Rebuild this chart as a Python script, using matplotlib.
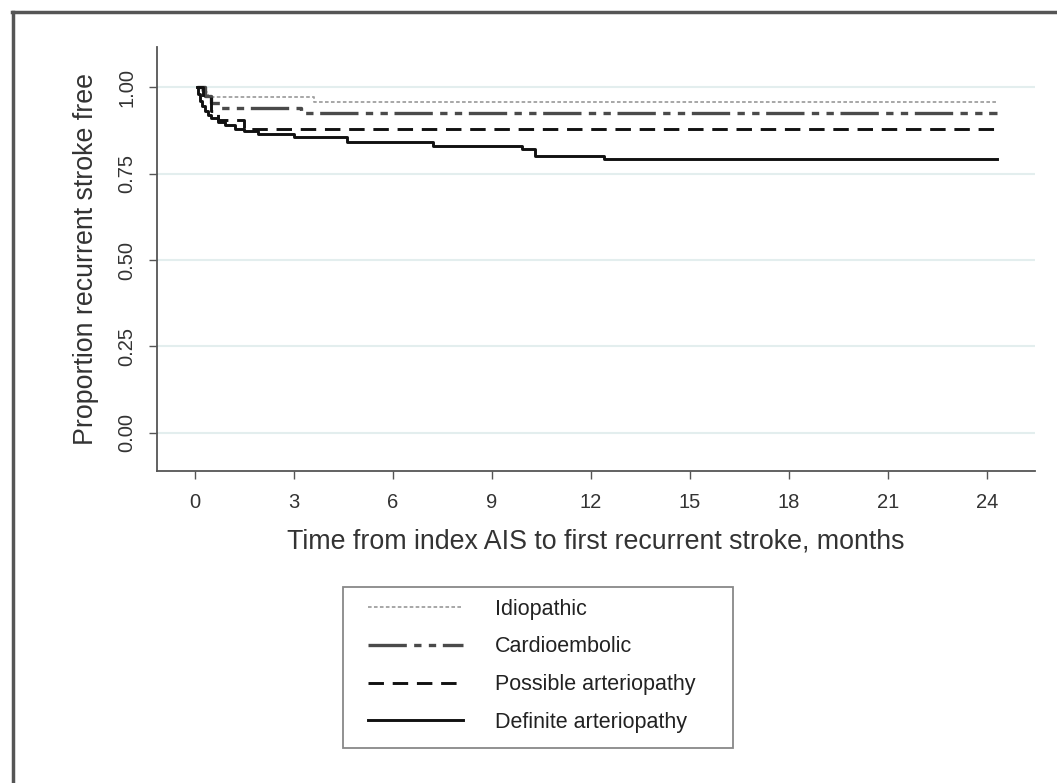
import matplotlib
matplotlib.use('Agg')
import matplotlib.pyplot as plt
from matplotlib.lines import Line2D
from matplotlib.patches import Rectangle

# Kaplan-Meier estimates (months, proportion free)
idio_t = [0.06, 0.2, 0.4, 3.6, 24.3]
idio_s = [1.0, 0.985, 0.972, 0.957, 0.957]

cardio_t = [0.06, 0.3, 0.5, 0.8, 3.2, 24.3]
cardio_s = [1.0, 0.975, 0.955, 0.94, 0.925, 0.925]

poss_t = [0.06, 0.25, 0.5, 0.7, 1.5, 24.3]
poss_s = [1.0, 0.97, 0.93, 0.905, 0.878, 0.878]

def_t = [0.06, 0.1, 0.15, 0.2, 0.3, 0.4, 0.5, 0.7, 0.9, 1.2, 1.5, 1.9,
         3.0, 4.6, 7.2, 9.9, 10.3, 12.4, 24.3]
def_s = [1.0, 0.98, 0.96, 0.945, 0.93, 0.92, 0.91, 0.90, 0.89, 0.88, 0.873,
         0.865, 0.855, 0.84, 0.83, 0.82, 0.80, 0.792, 0.792]

labels = ['Idiopathic', 'Cardioembolic', 'Possible arteriopathy',
          'Definite arteriopathy']
xticks = [0, 3, 6, 9, 12, 15, 18, 21, 24]
yticks = [0.0, 0.25, 0.5, 0.75, 1.0]

plt.rcParams['font.family'] = ['Liberation Sans', 'DejaVu Sans']

fig = plt.figure(figsize=(10.57, 7.83), dpi=100)
ax = fig.add_axes([0.1485, 0.3985, 0.8305, 0.5415])

styles = [
    dict(color='#a0a0a0', lw=1.3, ls=(0, (2.0, 1.3))),
    dict(color='#4a4a4a', lw=2.4, ls=(0, (11.5, 2.2, 2.2, 2.2, 2.2, 2.0))),
    dict(color='#111111', lw=2.1, ls=(0, (5.3, 3.0))),
    dict(color='#111111', lw=2.1, ls='-'),
]
series = [(idio_t, idio_s), (cardio_t, cardio_s), (poss_t, poss_s),
          (def_t, def_s)]

handles = []
for (t, s), st, lab in zip(series, styles, labels):
    h, = ax.step(t, s, where='post', label=lab, **st)
    handles.append(h)

ax.set_xlim(-1.15, 25.45)
ax.set_ylim(-0.11, 1.116)
ax.set_xticks(xticks)
ax.set_xticklabels([str(x) for x in xticks])
ax.set_yticks(yticks)
ax.set_yticklabels(['%.2f' % y for y in yticks], rotation=90, va='center')

ax.grid(axis='y', color='#e3eeee', lw=1.5)
ax.set_axisbelow(True)
for side in ['top', 'right']:
    ax.spines[side].set_visible(False)
for side in ['left', 'bottom']:
    ax.spines[side].set_color('#555555')
    ax.spines[side].set_linewidth(1.3)
ax.tick_params(axis='both', color='#555555', length=6, width=1.0,
               labelsize=14.5, labelcolor='#333333')
ax.tick_params(axis='x', pad=10)
ax.tick_params(axis='y', pad=9)

ax.set_xlabel('Time from index AIS to first recurrent stroke, months',
              fontsize=19.3, color='#333333', labelpad=12)
ax.set_ylabel('Proportion recurrent stroke free', fontsize=19.3,
              color='#333333', labelpad=13)

# legend entries without frame; the box is drawn separately
leg = fig.legend(handles=handles, labels=labels, loc='upper left',
                 bbox_to_anchor=(368 / 1057, 0.2356), fontsize=15.5,
                 handlelength=4.4, handletextpad=1.5, labelspacing=0.78,
                 borderpad=0, borderaxespad=0, frameon=False)
for txt in leg.get_texts():
    txt.set_color('#222222')
fig.add_artist(Rectangle((343 / 1057, 35 / 783), 390 / 1057, 161 / 783,
                         transform=fig.transFigure, fill=False,
                         edgecolor='#888888', lw=1.3))

# outer frame (only left and top edges visible in the crop)
fig.add_artist(Line2D([0.0125, 0.0125], [0.0, 0.985], color='#555555',
                      lw=2.5, transform=fig.transFigure))
fig.add_artist(Line2D([0.011, 1.0], [0.985, 0.985], color='#555555',
                      lw=2.5, transform=fig.transFigure))

fig.savefig('out.png', dpi=100)
